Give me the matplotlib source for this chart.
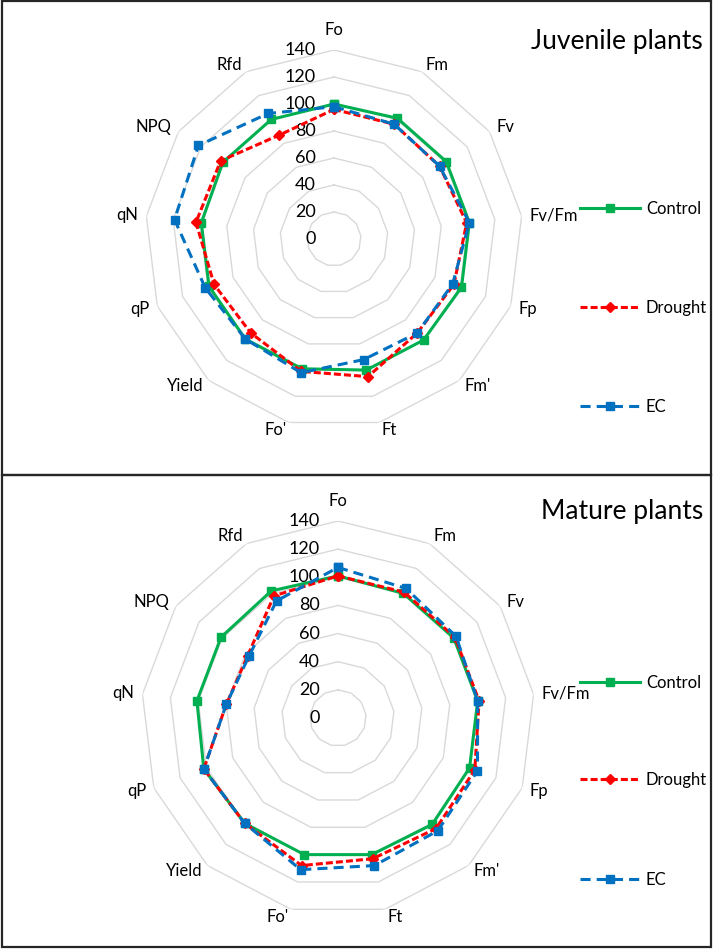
import numpy as np
import matplotlib
matplotlib.use("Agg")
import matplotlib.pyplot as plt
from matplotlib.patches import Rectangle

plt.rcParams['font.family'] = ['Lato', 'DejaVu Sans']

categories = ["Fo", "Fm", "Fv", "Fv/Fm", "Fp", "Fm'", "Ft", "Fo'", "Yield",
              "qP", "qN", "NPQ", "Rfd"]
series_names = ["Control", "Drought", "EC"]
radial_ticks = [0, 20, 40, 60, 80, 100, 120, 140]

juv_control = [100, 101, 101, 101, 101, 100, 100, 99, 99, 99, 99, 100, 100]
juv_drought = [96, 96, 95, 99, 95, 93, 105, 101, 93, 95, 103, 102, 87]
juv_ec = [98, 96, 95, 101, 94, 93, 92, 102, 99, 102, 119, 122, 105]

mat_control = [101, 100, 100, 100, 100, 101, 100, 100, 100, 102, 101, 101, 102]
mat_drought = [101, 101, 101, 101, 104, 105, 103, 108, 100, 102, 80, 78, 98]
mat_ec = [107, 104, 102, 100, 106, 107, 108, 111, 100, 102, 80, 77, 94]

panels = [
    ("Juvenile plants", [juv_control, juv_drought, juv_ec]),
    ("Mature plants", [mat_control, mat_drought, mat_ec]),
]

W, H = 714, 950
fig = plt.figure(figsize=(W / 100, H / 100), dpi=100)

colors = ["#00B050", "#FF0000", "#0070C0"]
styles = [
    dict(linestyle="-", marker="s", markersize=5.5),
    dict(linestyle=(0, (2.3, 1.0)), marker="D", markersize=5),
    dict(linestyle=(0, (3.3, 2.0)), marker="s", markersize=5.5),
]
lw = 2.2

# panel geometry in pixels: center x, center y, radius
geoms = [(334, 239, 189), (338, 718, 197)]
title_y = [42, 512]
legend_ys = [[209, 308, 407], [683, 780, 880]]
boxes = [(2, 1, 711, 475), (2, 475, 711, 947)]

n = len(categories)
angles = np.linspace(0, 2 * np.pi, n, endpoint=False)
rmax = radial_ticks[-1]

for (title, data), (cx, cy, R), ty, lys, box in zip(panels, geoms, title_y, legend_ys, boxes):
    ax = fig.add_axes([(cx - R) / W, (H - cy - R) / H, 2 * R / W, 2 * R / H],
                      projection="polar")
    ax.set_theta_zero_location("N")
    ax.set_theta_direction(-1)
    ax.set_ylim(0, rmax)
    ax.grid(False)
    ax.set_xticks([])
    ax.set_yticks([])
    ax.spines["polar"].set_visible(False)
    ax.patch.set_alpha(0)

    # polygon gridlines
    closed = np.append(angles, angles[0])
    for t in radial_ticks[1:]:
        ax.plot(closed, [t] * len(closed), color="#D9D9D9", lw=1.0, zorder=1)

    # radial tick labels
    for t in radial_ticks:
        ax.annotate(str(t), xy=(0, t), xytext=(-18, 0), textcoords="offset pixels",
                    ha="right", va="center", fontsize=13, color="#000000",
                    annotation_clip=False, zorder=2)

    # category labels
    for a, lab in zip(angles, categories):
        s, c = np.sin(a), np.cos(a)
        if abs(s) < 0.05:
            ax.annotate(lab, xy=(a, rmax), xytext=(0, 12), textcoords="offset pixels",
                        ha="center", va="bottom", fontsize=12, annotation_clip=False)
        else:
            ha = "left" if s > 0 else "right"
            ax.annotate(lab, xy=(a, rmax), xytext=(8 * s, 8 * c),
                        textcoords="offset pixels", ha=ha, va="center",
                        fontsize=12, annotation_clip=False)

    handles = []
    for vals, name, col, st in zip(data, series_names, colors, styles):
        v = list(vals) + [vals[0]]
        h, = ax.plot(closed, v, color=col, lw=lw, label=name, zorder=3,
                     markeredgecolor=col, markerfacecolor=col, clip_on=False, **st)
        handles.append(h)

    # legend entries
    for h, ly in zip(handles, lys):
        fig.legend(handles=[h], labels=[h.get_label()], loc="center left",
                   bbox_to_anchor=(580 / W, 1 - ly / H), frameon=False,
                   handlelength=3.6, handletextpad=0.35, borderpad=0,
                   borderaxespad=0, fontsize=12)

    fig.text(703 / W, 1 - ty / H, title, ha="right", va="center", fontsize=19)

    x0, y0, x1, y1 = box
    fig.patches.append(Rectangle((x0 / W, 1 - y1 / H), (x1 - x0) / W, (y1 - y0) / H,
                                 transform=fig.transFigure, fill=False,
                                 edgecolor="#262626", lw=1.6, zorder=10))

fig.savefig("out.png", dpi=100)
